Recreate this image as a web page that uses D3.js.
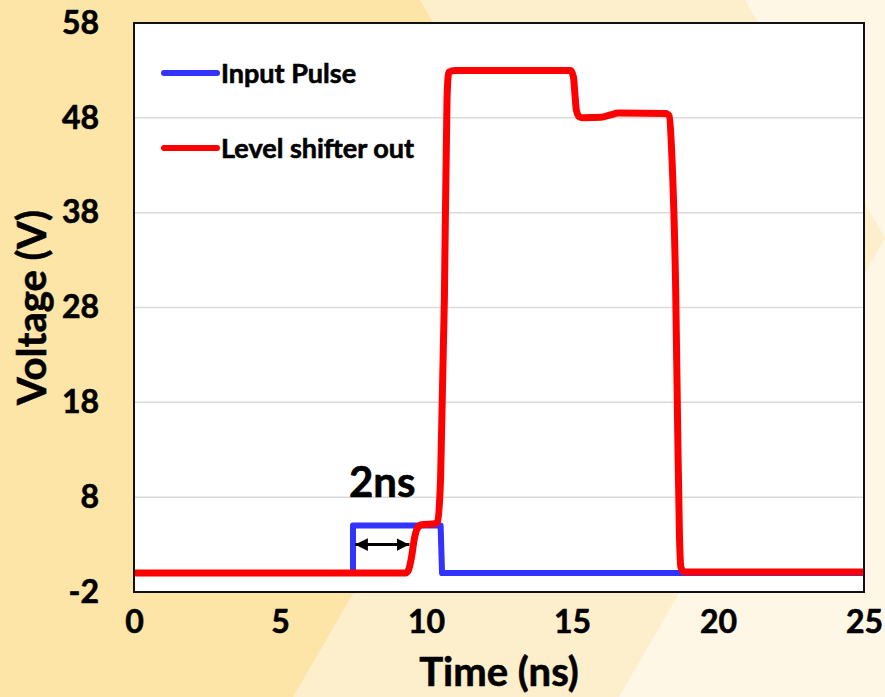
<!DOCTYPE html>
<html>
<head>
<meta charset="utf-8">
<script src="https://cdn.jsdelivr.net/npm/d3@7"></script>
<style>
  html, body { margin: 0; padding: 0; background: #fef7e6; }
  svg { display: block; font-family: Lato, "Open Sans", sans-serif; font-weight: bold; }
  svg text { stroke: #000; stroke-width: 0.6; paint-order: stroke; }
</style>
</head>
<body>
<svg id="chart" width="885" height="697"></svg>
<script>
// series values (time in ns, voltage in V)
const inputPulse = [
  [0, 0], [7.5, 0], [7.5, 5], [10.5, 5], [10.55, 0], [25, 0]
];
const levelShifterOut = [
  [0, 0], [9.3, 0], [9.4, 0.3], [9.5, 1.6], [9.6, 3.6], [9.7, 4.7], [9.85, 5.1],
  [10.3, 5.2], [10.39, 5.4], [10.5, 10], [10.63, 29], [10.72, 50], [10.78, 52.8],
  [11, 53], [14.95, 53], [15.05, 52.3], [15.1, 50.5], [15.15, 48.8], [15.25, 48.1],
  [15.4, 48], [16.0, 48.05], [16.3, 48.3], [16.6, 48.5], [18.2, 48.45], [18.33, 48.2],
  [18.42, 44], [18.55, 30], [18.62, 15], [18.68, 4], [18.73, 0.6], [18.85, 0.1], [25, 0.1]
];
const seriesNames = ['Input Pulse', 'Level shifter out'];
const seriesColors = ['#3333ff', '#ff0000'];
const xTicks = [0, 5, 10, 15, 20, 25];
const yTicks = [-2, 8, 18, 28, 38, 48, 58];
const gridValues = [8, 18, 28, 38, 48];
const arrowSpan = [7.5, 9.5];
const arrowLevel = 3;
const spanLabel = '2ns';
const spanLabelAt = [8.5, 8];

const svg = d3.select('#chart');
const W = 885, H = 697;
const margin = { left: 134, right: 21, top: 23, bottom: 105 };
const w = W - margin.left - margin.right;
const h = H - margin.top - margin.bottom;

// background chevrons
svg.append('rect').attr('width', W).attr('height', H).attr('fill', '#fef7e6');
svg.append('polygon')
  .attr('points', '745,0 885,238 619,697 0,697 0,0')
  .attr('fill', '#feefcc');
svg.append('polygon')
  .attr('points', '420,0 560,238 293,697 0,697 0,0')
  .attr('fill', '#fde4a7');
svg.append('polygon')
  .attr('points', '865,205 885,238 865,273')
  .attr('fill', '#feefcc');

const x = d3.scaleLinear().domain([0, 25]).range([0, w]);
const y = d3.scaleLinear().domain([-2, 58]).range([h, 0]);

const g = svg.append('g').attr('transform', `translate(${margin.left},${margin.top})`);

g.append('rect').attr('width', w).attr('height', h).attr('fill', '#fff');

// gridlines
g.selectAll('.grid').data(gridValues).enter().append('line')
  .attr('x1', 0).attr('x2', w)
  .attr('y1', d => y(d)).attr('y2', d => y(d))
  .attr('stroke', '#d9d9d9').attr('stroke-width', 1.5);

// lines
const line = d3.line().x(d => x(d[0])).y(d => y(d[1]));
g.append('path').datum(inputPulse)
  .attr('fill', 'none').attr('stroke', seriesColors[0]).attr('stroke-width', 6)
  .attr('stroke-linejoin', 'round')
  .attr('d', line);
g.append('path').datum(levelShifterOut)
  .attr('fill', 'none').attr('stroke', seriesColors[1]).attr('stroke-width', 7)
  .attr('stroke-linejoin', 'round')
  .attr('d', line.curve(d3.curveMonotoneX));

// frame
g.append('rect').attr('width', w).attr('height', h)
  .attr('fill', 'none').attr('stroke', '#111').attr('stroke-width', 2);

// axes (labels only)
const xAxis = g.append('g').attr('transform', `translate(0,${h})`)
  .call(d3.axisBottom(x).tickValues(xTicks).tickSize(0).tickPadding(18).tickFormat(d => String(d)));
xAxis.select('.domain').remove();
xAxis.selectAll('text').attr('font-size', 32).attr('font-family', 'Lato').attr('font-weight', 'bold').attr('fill', '#000');

const yAxis = g.append('g')
  .call(d3.axisLeft(y).tickValues(yTicks).tickSize(0).tickPadding(35).tickFormat(d => String(d)));
yAxis.select('.domain').remove();
yAxis.selectAll('text').attr('font-size', 32).attr('font-family', 'Lato').attr('font-weight', 'bold').attr('fill', '#000');

// axis titles
svg.append('text').attr('x', margin.left + w / 2).attr('y', 686)
  .attr('text-anchor', 'middle').attr('font-size', 40).text('Time (ns)');
svg.append('text').attr('transform', `translate(46,${margin.top + h / 2}) rotate(-90)`)
  .attr('text-anchor', 'middle').attr('font-size', 40).text('Voltage (V)');

// arrow annotation
const defs = svg.append('defs');
['start', 'end'].forEach(k => {
  defs.append('marker').attr('id', 'arr-' + k)
    .attr('viewBox', '0 0 10 10').attr('refX', k === 'end' ? 10 : 0).attr('refY', 5)
    .attr('markerWidth', 4.3).attr('markerHeight', 4.8).attr('markerUnits', 'strokeWidth')
    .attr('orient', 'auto')
    .append('path')
    .attr('d', k === 'end' ? 'M0,0 L10,5 L0,10 Z' : 'M10,0 L0,5 L10,10 Z')
    .attr('fill', '#000');
});
g.append('line')
  .attr('x1', x(arrowSpan[0]) + 2).attr('x2', x(arrowSpan[1]) - 2)
  .attr('y1', y(arrowLevel)).attr('y2', y(arrowLevel))
  .attr('stroke', '#000').attr('stroke-width', 3)
  .attr('marker-start', 'url(#arr-start)').attr('marker-end', 'url(#arr-end)');
g.append('text').attr('x', x(spanLabelAt[0])).attr('y', y(spanLabelAt[1]))
  .attr('text-anchor', 'middle').attr('font-size', 42).text(spanLabel);

// legend
const legend = g.append('g');
seriesNames.forEach((name, i) => {
  const ly = 50 + i * 75;
  legend.append('line').attr('x1', 30).attr('x2', 83).attr('y1', ly).attr('y2', ly)
    .attr('stroke', seriesColors[i]).attr('stroke-width', 6).attr('stroke-linecap', 'round');
  legend.append('text').attr('x', 87).attr('y', ly + 10).attr('font-size', 27).text(name);
});
</script>
</body>
</html>
